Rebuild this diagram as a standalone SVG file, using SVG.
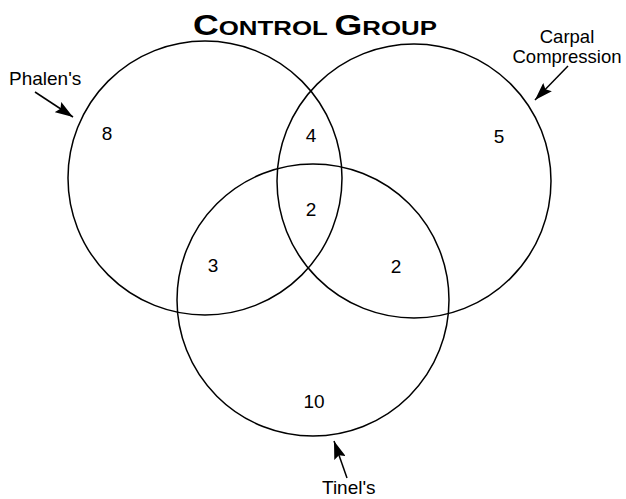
<svg xmlns="http://www.w3.org/2000/svg" width="626" height="499" viewBox="0 0 626 499">
<defs>
<style>
.c{fill:none;stroke:#000;stroke-width:1.5}
.t{font-family:"Liberation Sans",Arial,sans-serif;font-size:19px;fill:#000}
.n{font-family:"Liberation Sans",Arial,sans-serif;font-size:19px;fill:#000;text-anchor:middle}
.a{stroke:#000;stroke-width:1.5;fill:none}
</style>
<marker id="ah" markerUnits="userSpaceOnUse" markerWidth="20" markerHeight="12" refX="18" refY="6" orient="auto">
<polygon points="0,0 18,6 0,12 3,6" fill="#000"/>
</marker>
</defs>
<rect width="626" height="499" fill="#fff"/>
<text x="193" y="35" textLength="244" lengthAdjust="spacingAndGlyphs" style="font-family:'Liberation Sans',Arial,sans-serif;font-weight:bold;fill:#000"><tspan font-size="29">C</tspan><tspan font-size="21">ONTROL </tspan><tspan font-size="29">G</tspan><tspan font-size="21">ROUP</tspan></text>
<g id="phalens">
<circle class="c" cx="205" cy="178" r="137"/>
<text class="t" x="9" y="85">Phalen's</text>
<text class="n" x="107" y="140">8</text>
</g>
<g id="carpal">
<circle class="c" cx="414" cy="181" r="137"/>
<text class="t" x="567" y="43" text-anchor="middle" style="font-size:18.5px">Carpal</text>
<text class="t" x="567" y="63" text-anchor="middle" style="font-size:18.5px">Compression</text>
<text class="n" x="499" y="143">5</text>
</g>
<g id="tinels">
<circle class="c" cx="313" cy="300" r="136"/>
<text class="t" x="322" y="494">Tinel's</text>
<text class="n" x="314" y="408">10</text>
</g>
<g id="overlaps">
<text class="n" x="311" y="142">4</text>
<text class="n" x="311" y="216">2</text>
<text class="n" x="213" y="272">3</text>
<text class="n" x="396" y="273">2</text>
</g>
<g id="connectors">
<line class="a" x1="35" y1="92" x2="73" y2="117" marker-end="url(#ah)"/>
<line class="a" x1="568" y1="66" x2="535" y2="100" marker-end="url(#ah)"/>
<line class="a" x1="347" y1="478" x2="334" y2="441" marker-end="url(#ah)"/>
</g>
</svg>
